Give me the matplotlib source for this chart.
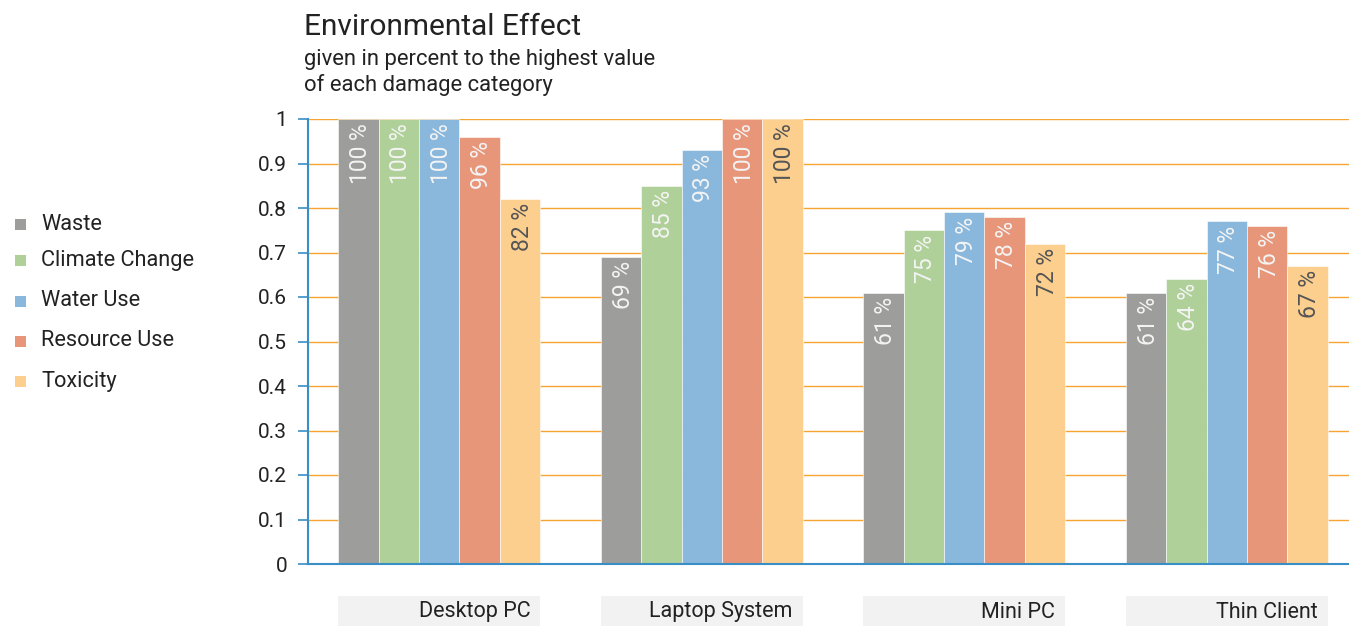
import matplotlib
matplotlib.use("Agg")
import matplotlib.pyplot as plt
from matplotlib.patches import Rectangle
import matplotlib.transforms as mtransforms
import numpy as np

categories = ["Desktop PC", "Laptop System", "Mini PC", "Thin Client"]
series_names = ["Waste", "Climate Change", "Water Use", "Resource Use", "Toxicity"]
waste = [1.00, 0.69, 0.61, 0.61]
climate = [1.00, 0.85, 0.75, 0.64]
water = [1.00, 0.93, 0.79, 0.77]
resource = [0.96, 1.00, 0.78, 0.76]
toxicity = [0.82, 1.00, 0.72, 0.67]
series_values = [waste, climate, water, resource, toxicity]
yticks = [0, 0.1, 0.2, 0.3, 0.4, 0.5, 0.6, 0.7, 0.8, 0.9, 1]
ytick_labels = ["0", "0.1", "0.2", "0.3", "0.4", "0.5", "0.6", "0.7", "0.8", "0.9", "1"]

colors = ["#9d9d9c", "#afd098", "#8ab7dc", "#e8967a", "#fccf8f"]
label_colors = ["#f4f4f4", "#f4f4f4", "#f4f4f4", "#f4f4f4", "#555555"]
grid_color = "#f5a530"
axis_color = "#3a8ec6"
TXT = "#222222"
FONT = ["Roboto", "DejaVu Sans"]
plt.rcParams["font.family"] = FONT

W, H = 1349, 626
fig = plt.figure(figsize=(W / 100, H / 100), dpi=100)
ax = fig.add_axes([308 / W, 1 - 564 / H, 1 - 308 / W, (564 - 119) / H])

unit = 262.5
bw = 40.4 / unit
x = np.arange(len(categories))
for i, (name, vals) in enumerate(zip(series_names, series_values)):
    off = (i - 2) * bw
    ax.bar(x + off, vals, width=bw, color=colors[i], edgecolor="#ffffff",
           linewidth=0.4, zorder=2)
    for xi, v in zip(x, vals):
        ax.annotate(f"{round(v * 100)} %", xy=(xi + off, v), xytext=(1.5, -3),
                    textcoords="offset points", rotation=90, ha="center",
                    va="top", fontsize=16.5, color=label_colors[i], zorder=3)

ax.set_xlim(-0.5, (W - 308) / unit - 0.5)
ax.set_ylim(0, 1)
ax.set_yticks(yticks)
ax.set_yticklabels(ytick_labels, fontsize=15, color=TXT)
ax.set_xticks([])
for yv in yticks[1:]:
    ax.axhline(yv, color=grid_color, linewidth=1.0, zorder=1)
for s in ["top", "right"]:
    ax.spines[s].set_visible(False)
for s in ["left", "bottom"]:
    ax.spines[s].set_color(axis_color)
    ax.spines[s].set_linewidth(1.5)
ax.tick_params(axis="y", colors=axis_color, length=7, width=1.2, pad=8,
               labelcolor=TXT)

# category label boxes
trans = mtransforms.blended_transform_factory(ax.transData, fig.transFigure)
for xi, cat in zip(x, categories):
    left = xi - 2.5 * bw
    rect = Rectangle((left, 0), 5 * bw, (H - 596) / H, transform=trans,
                     facecolor="#f2f2f2", edgecolor="none", clip_on=False)
    fig.add_artist(rect)
    fig.text(left + 5 * bw - 10 / unit, 1 - 612 / H, cat, transform=trans,
             fontsize=15.5, color=TXT, ha="right", va="center")

# titles
fig.text(304 / W, 1 - 27 / H, "Environmental Effect", fontsize=21.5,
         color=TXT, va="center", ha="left")
fig.text(304 / W, 1 - 59 / H, "given in percent to the highest value",
         fontsize=15.8, color=TXT, va="center", ha="left")
fig.text(304 / W, 1 - 85 / H, "of each damage category",
         fontsize=15.8, color=TXT, va="center", ha="left")

# legend
leg_y = [224, 260, 301, 341, 381]
for name, c, yy in zip(series_names, colors, leg_y):
    fig.add_artist(Rectangle((15 / W, 1 - (yy + 6) / H), 11 / W, 11 / H,
                             transform=fig.transFigure, facecolor=c,
                             edgecolor="none"))
    fig.text(41 / W, 1 - yy / H, name, fontsize=15.7,
             color=TXT, va="center", ha="left")

fig.savefig("out.png", dpi=100)
